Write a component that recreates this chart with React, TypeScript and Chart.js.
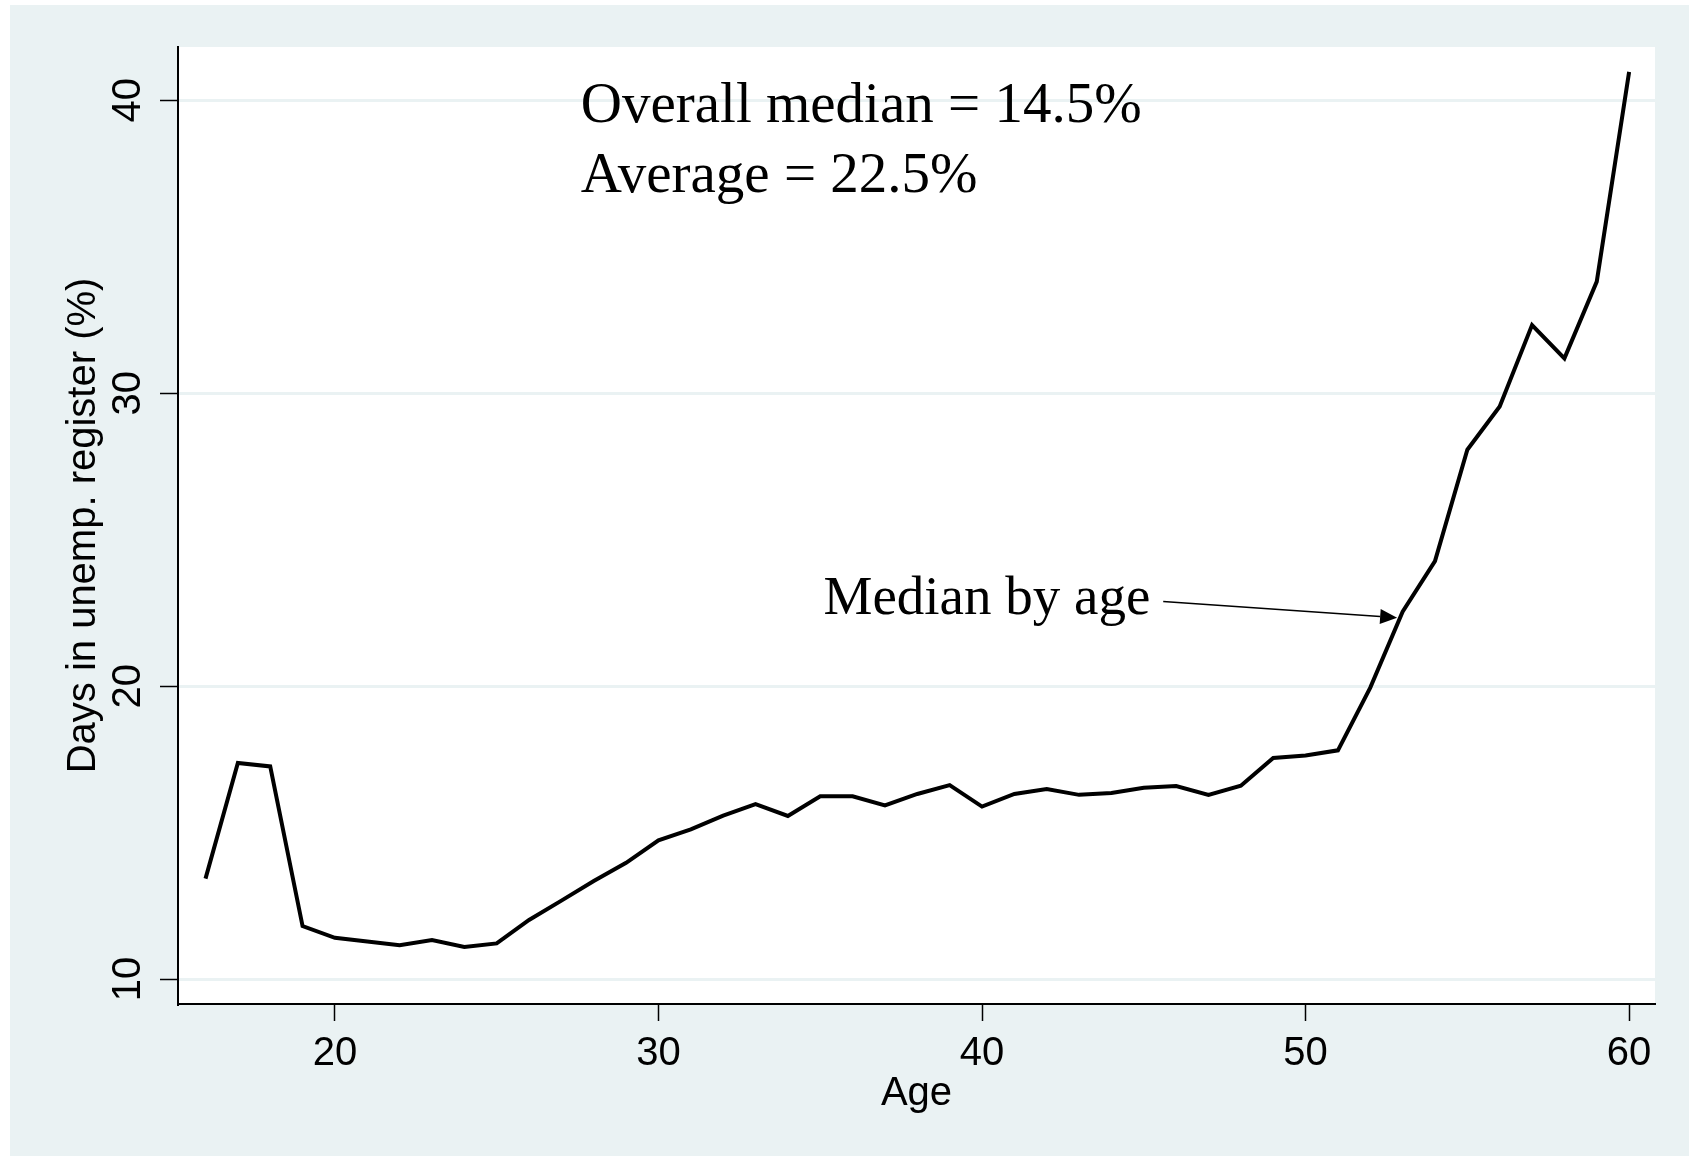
import React, { useEffect, useRef } from 'react';
import { Chart, registerables } from 'chart.js';

Chart.register(...registerables);

// ---- data ----
const ages = [
  16, 17, 18, 19, 20, 21, 22, 23, 24, 25,
  26, 27, 28, 29, 30, 31, 32, 33, 34, 35,
  36, 37, 38, 39, 40, 41, 42, 43, 44, 45,
  46, 47, 48, 49, 50, 51, 52, 53, 54, 55,
  56, 57, 58, 59, 60,
];
const medianByAge = [
  13.43, 17.38, 17.26, 11.81, 11.41, 11.28, 11.16, 11.33, 11.1, 11.22,
  12.02, 12.68, 13.35, 13.97, 14.74, 15.11, 15.58, 15.97, 15.57, 16.24,
  16.24, 15.93, 16.32, 16.62, 15.89, 16.32, 16.49, 16.29, 16.35, 16.53,
  16.59, 16.29, 16.6, 17.55, 17.63, 17.81, 19.95, 22.54, 24.27, 28.07,
  29.55, 32.33, 31.19, 33.81, 40.97,
];
const xTicks = [20, 30, 40, 50, 60];
const yTicks = [10, 20, 30, 40];
const xTitle = 'Age';
const yTitle = 'Days in unemp. register (%)';
const noteLines = ['Overall median = 14.5%', 'Average = 22.5%'];
const seriesLabel = 'Median by age';

// axis ranges and annotation anchors (data units)
const X_MIN = 15.15;
const X_MAX = 60.8;
const Y_MIN = 9.15;
const Y_MAX = 41.82;
const NOTE_X = 27.6;
const NOTE_Y = [39.25, 36.86];
const LABEL_X = 35.1;
const LABEL_Y = 22.45;
const ARROW_FROM = [45.6, 22.89];
const ARROW_TO = [52.83, 22.34];

const SANS = '"Liberation Sans", Arial, Helvetica, sans-serif';
const SERIF = '"Liberation Serif", "Times New Roman", serif';
const BG = '#EAF2F3';

const bgPlugin = {
  id: 'stataBg',
  beforeDraw(chart: any) {
    const { ctx, width, height, chartArea } = chart;
    ctx.save();
    ctx.fillStyle = '#ffffff';
    ctx.fillRect(0, 0, width, height);
    ctx.fillStyle = BG;
    ctx.fillRect(10, 5, width - 10, height - 5);
    ctx.fillStyle = '#ffffff';
    ctx.fillRect(chartArea.left, chartArea.top, chartArea.right - chartArea.left, chartArea.bottom - chartArea.top);
    ctx.restore();
  },
};

const notePlugin = {
  id: 'notes',
  afterDatasetsDraw(chart: any) {
    const { ctx, scales } = chart;
    const x = scales.x;
    const y = scales.y;
    ctx.save();
    ctx.fillStyle = '#000';
    ctx.textAlign = 'left';
    ctx.textBaseline = 'alphabetic';
    ctx.font = `57px ${SERIF}`;
    noteLines.forEach((t, i) => {
      ctx.fillText(t, x.getPixelForValue(NOTE_X), y.getPixelForValue(NOTE_Y[i]));
    });
    ctx.font = `55px ${SERIF}`;
    ctx.fillText(seriesLabel, x.getPixelForValue(LABEL_X), y.getPixelForValue(LABEL_Y));

    const x1 = x.getPixelForValue(ARROW_FROM[0]);
    const y1 = y.getPixelForValue(ARROW_FROM[1]);
    const x2 = x.getPixelForValue(ARROW_TO[0]);
    const y2 = y.getPixelForValue(ARROW_TO[1]);
    const ang = Math.atan2(y2 - y1, x2 - x1);
    const headLen = 17;
    const headHalf = 7.5;
    const c = Math.cos(ang);
    const s = Math.sin(ang);
    const bx = x2 - headLen * c;
    const by = y2 - headLen * s;
    ctx.strokeStyle = '#000';
    ctx.lineWidth = 1.6;
    ctx.beginPath();
    ctx.moveTo(x1, y1);
    ctx.lineTo(bx, by);
    ctx.stroke();
    ctx.beginPath();
    ctx.moveTo(x2, y2);
    ctx.lineTo(bx + headHalf * s, by - headHalf * c);
    ctx.lineTo(bx - headHalf * s, by + headHalf * c);
    ctx.closePath();
    ctx.fill();
    ctx.restore();
  },
};

export default function App() {
  const ref = useRef<HTMLCanvasElement | null>(null);

  useEffect(() => {
    document.body.style.margin = '0';
    const canvas = ref.current;
    if (!canvas) return;
    const chart = new Chart(canvas, {
      type: 'line',
      data: {
        datasets: [
          {
            label: seriesLabel,
            data: ages.map((a, i) => ({ x: a, y: medianByAge[i] })),
            borderColor: '#000',
            borderWidth: 4,
            pointRadius: 0,
            fill: false,
            tension: 0,
          },
        ],
      },
      options: {
        animation: false,
        responsive: false,
        layout: { padding: { left: 0, top: 47, right: 34, bottom: 0 } },
        plugins: {
          legend: { display: false },
          tooltip: { enabled: false },
        },
        scales: {
          x: {
            type: 'linear',
            min: X_MIN,
            max: X_MAX,
            afterBuildTicks: (s: any) => {
              s.ticks = xTicks.map((v) => ({ value: v }));
            },
            afterFit: (s: any) => {
              s.height = 152;
            },
            grid: {
              drawOnChartArea: false,
              drawTicks: true,
              tickLength: 17,
              tickColor: '#000',
              tickWidth: 1.5,
            },
            border: { display: true, color: '#000', width: 2 },
            ticks: {
              color: '#000',
              font: { family: SANS, size: 40, lineHeight: 1.2 },
              padding: 9,
              maxRotation: 0,
              minRotation: 0,
              autoSkip: false,
              callback: (v: any) => String(v),
            },
            title: {
              display: true,
              text: xTitle,
              color: '#000',
              font: { family: SANS, size: 40, lineHeight: 1.2 },
              padding: { top: 0, bottom: 38 },
            },
          },
          y: {
            type: 'linear',
            min: Y_MIN,
            max: Y_MAX,
            afterBuildTicks: (s: any) => {
              s.ticks = yTicks.map((v) => ({ value: v }));
            },
            afterFit: (s: any) => {
              s.width = 178;
            },
            grid: {
              color: BG,
              lineWidth: 3,
              drawOnChartArea: true,
              drawTicks: true,
              tickLength: 18,
              tickColor: '#000',
              tickWidth: 1.5,
            },
            border: { display: true, color: '#000', width: 2 },
            ticks: {
              color: '#000',
              font: { family: SANS, size: 40, lineHeight: 1.2 },
              padding: 9,
              minRotation: 90,
              maxRotation: 90,
              crossAlign: 'center',
              autoSkip: false,
              callback: (v: any) => String(v),
            },
            title: {
              display: true,
              text: yTitle,
              color: '#000',
              font: { family: SANS, size: 40, lineHeight: 1.2 },
              padding: { top: 60, bottom: 0 },
            },
          },
        },
      } as any,
      plugins: [bgPlugin, notePlugin],
    });
    return () => chart.destroy();
  }, []);

  return (
    <div style={{ width: 1689, height: 1156 }}>
      <canvas ref={ref} width={1689} height={1156} style={{ display: 'block' }} />
    </div>
  );
}
